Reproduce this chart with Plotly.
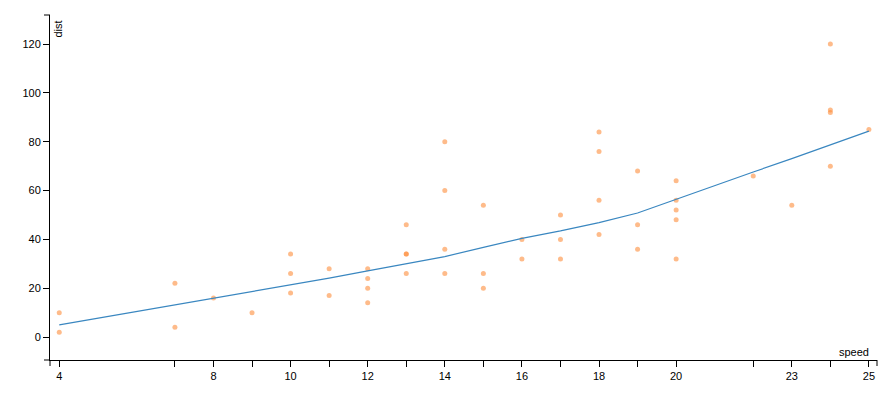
import plotly.graph_objects as go

speed = [4, 4, 7, 7, 8, 9, 10, 10, 10, 11, 11, 12, 12, 12, 12, 13, 13, 13, 13,
         14, 14, 14, 14, 15, 15, 15, 16, 16, 17, 17, 17, 18, 18, 18, 18, 19, 19,
         19, 20, 20, 20, 20, 20, 22, 23, 24, 24, 24, 24, 25]
dist = [2, 10, 4, 22, 16, 10, 18, 26, 34, 17, 28, 14, 20, 24, 28, 26, 34, 34, 46,
        26, 36, 60, 80, 20, 26, 54, 32, 40, 32, 40, 50, 42, 56, 76, 84, 36, 46,
        68, 32, 48, 52, 56, 64, 66, 54, 70, 92, 93, 120, 85]

# smoothed (lowess) curve at unique speeds
fit_x = [4, 7, 8, 9, 10, 11, 12, 13, 14, 15, 16, 17, 18, 19, 20, 22, 23, 24, 25]
fit_y = [4.97, 13.12, 15.86, 18.58, 21.28, 24.13, 27.12, 30.03, 32.96, 36.76,
         40.44, 43.46, 46.89, 50.79, 56.49, 67.59, 73.08, 78.64, 84.33]

x_ticks = [4, 7, 8, 9, 10, 11, 12, 13, 14, 15, 16, 17, 18, 19, 20, 22, 23, 24, 25]
x_labels = ["4", "", "8", "", "10", "", "12", "", "14", "", "16", "", "18", "",
            "20", "", "23", "", "25"]
y_ticks = [0, 20, 40, 60, 80, 100, 120]

FONT = "Liberation Sans, Arial"

fig = go.Figure()
fig.add_trace(go.Scatter(
    x=speed, y=dist, mode="markers",
    marker=dict(size=5, color="rgba(253,141,60,0.6)", line=dict(width=0)),
    hoverinfo="x+y", showlegend=False))
fig.add_trace(go.Scatter(
    x=fit_x, y=fit_y, mode="lines",
    line=dict(color="#3a87c0", width=1.2), showlegend=False))

axis_common = dict(showgrid=False, zeroline=False, showline=True, linecolor="black",
                   linewidth=1, ticks="outside", ticklen=6, tickcolor="black",
                   tickwidth=1, tickfont=dict(family=FONT, size=11, color="black"))
fig.update_xaxes(range=[3.76, 25.21], tickmode="array", tickvals=x_ticks,
                 ticktext=x_labels, **axis_common)
fig.update_yaxes(range=[-9.4, 131.9], tickmode="array", tickvals=y_ticks,
                 **axis_common)

# outer ticks at the axis ends
shapes = []
for xp in (0, 1):
    shapes.append(dict(type="line", xref="paper", yref="paper", x0=xp, x1=xp,
                       ysizemode="pixel", yanchor=0, y0=0, y1=-6,
                       line=dict(color="black", width=1)))
for yp in (0, 1):
    shapes.append(dict(type="line", xref="paper", yref="paper", y0=yp, y1=yp,
                       xsizemode="pixel", xanchor=0, x0=0, x1=-6,
                       line=dict(color="black", width=1)))

fig.update_layout(
    width=878, height=390,
    margin=dict(l=42, r=9, t=7, b=38),
    plot_bgcolor="white", paper_bgcolor="white",
    font=dict(family=FONT, size=11, color="black"),
    shapes=shapes,
    annotations=[
        dict(text="dist", xref="paper", yref="paper", x=0, y=1, xshift=-1, yshift=-4,
             xanchor="left", yanchor="top", textangle=-90, showarrow=False,
             font=dict(size=11, family=FONT, color="black")),
        dict(text="speed", xref="paper", yref="paper", x=1, y=0, xshift=-6,
             xanchor="right", yanchor="bottom", showarrow=False,
             font=dict(size=11, family=FONT, color="black")),
    ],
)

fig.write_html("out.html")
